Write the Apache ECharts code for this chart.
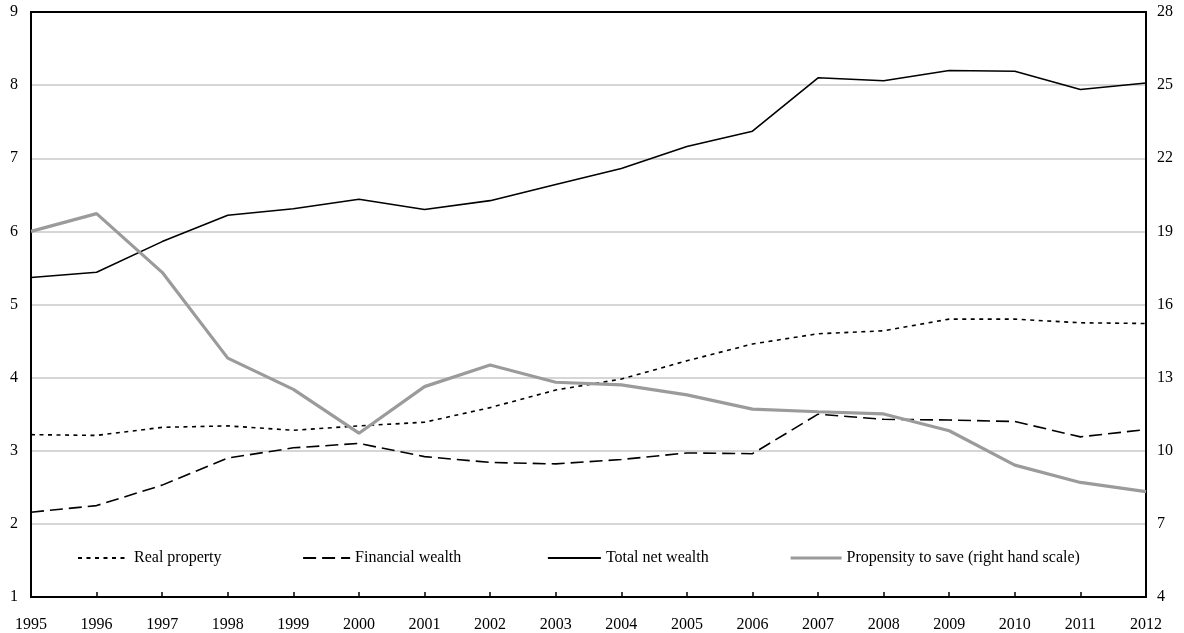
<!DOCTYPE html>
<html>
<head>
<meta charset="utf-8">
<script src="https://cdn.jsdelivr.net/npm/echarts@6/dist/echarts.min.js"></script>
<style>
html,body{margin:0;padding:0;background:#fff;}
#c{width:1184px;height:633px;}
</style>
</head>
<body>
<div id="c"></div>
<script>
const years = ['1995','1996','1997','1998','1999','2000','2001','2002','2003','2004','2005','2006','2007','2008','2009','2010','2011','2012'];
const realProperty = [3.22,3.21,3.32,3.34,3.28,3.34,3.39,3.59,3.83,3.98,4.23,4.46,4.60,4.64,4.80,4.80,4.75,4.74];
const financialWealth = [2.16,2.25,2.53,2.90,3.04,3.10,2.92,2.84,2.82,2.88,2.97,2.96,3.50,3.43,3.42,3.40,3.19,3.29];
const totalNetWealth = [5.37,5.44,5.86,6.22,6.31,6.44,6.30,6.42,6.64,6.86,7.16,7.37,8.10,8.06,8.20,8.19,7.94,8.03];
const propensityToSave = [19.0,19.73,17.32,13.8,12.52,10.72,12.63,13.52,12.81,12.70,12.29,11.71,11.60,11.51,10.82,9.41,8.70,8.32];
const names = ['Real property','Financial wealth','Total net wealth','Propensity to save (right hand scale)'];

const font = 'Liberation Serif';
const chart = echarts.init(document.getElementById('c'), null, {renderer:'canvas'});
function leg(name, left, w, lw){
  return {
    data:[name], left:left, top:550, padding:0, itemWidth:w, itemHeight:14, itemGap:0,
    itemStyle:{opacity:0},
    lineStyle:{width:lw},
    textStyle:{fontFamily:font, fontSize:16, color:'#000', padding:[0,0,0,0]},
    selectedMode:false
  };
}
chart.setOption({
  animation:false,
  backgroundColor:'#fff',
  textStyle:{fontFamily:font},
  grid:{left:31, right:38, top:12, bottom:36, show:true, borderColor:'#000', borderWidth:2, backgroundColor:'transparent'},
  legend:[
    leg(names[0], 77, 51, 2),
    leg(names[1], 302, 47, 2.2),
    leg(names[2], 547, 53, 1.8),
    leg(names[3], 789, 51, 3.2)
  ],
  xAxis:{
    type:'category', data:years, boundaryGap:false,
    axisLine:{lineStyle:{color:'#000', width:2}},
    axisTick:{inside:true, length:5, lineStyle:{color:'#000', width:1.5}},
    axisLabel:{color:'#000', fontSize:16, fontFamily:font, margin:20},
    splitLine:{show:false}
  },
  yAxis:[
    {type:'value', min:1, max:9, interval:1, position:'left',
     axisLine:{show:true, lineStyle:{color:'#000', width:2}},
     axisTick:{show:false},
     axisLabel:{color:'#000', fontSize:16, fontFamily:font, margin:13},
     splitLine:{show:true, showMinLine:false, showMaxLine:false, lineStyle:{color:'#c8c8c8', width:1.5}}},
    {type:'value', min:4, max:28, interval:3, position:'right',
     axisLine:{show:true, lineStyle:{color:'#000', width:2}},
     axisTick:{show:false},
     axisLabel:{color:'#000', fontSize:16, fontFamily:font, margin:11},
     splitLine:{show:false}}
  ],
  series:[
    {name:names[0], type:'line', data:realProperty, yAxisIndex:0, symbol:'none',
     lineStyle:{color:'#000', width:1.6, type:[4,4.5]}, itemStyle:{color:'#000'}},
    {name:names[1], type:'line', data:financialWealth, yAxisIndex:0, symbol:'none',
     lineStyle:{color:'#000', width:1.6, type:[13,6]}, itemStyle:{color:'#000'}},
    {name:names[2], type:'line', data:totalNetWealth, yAxisIndex:0, symbol:'none',
     lineStyle:{color:'#000', width:1.6}, itemStyle:{color:'#000'}},
    {name:names[3], type:'line', data:propensityToSave, yAxisIndex:1, symbol:'none',
     lineStyle:{color:'#9b9b9b', width:3.2}, itemStyle:{color:'#9b9b9b'}}
  ]
});
</script>
</body>
</html>
